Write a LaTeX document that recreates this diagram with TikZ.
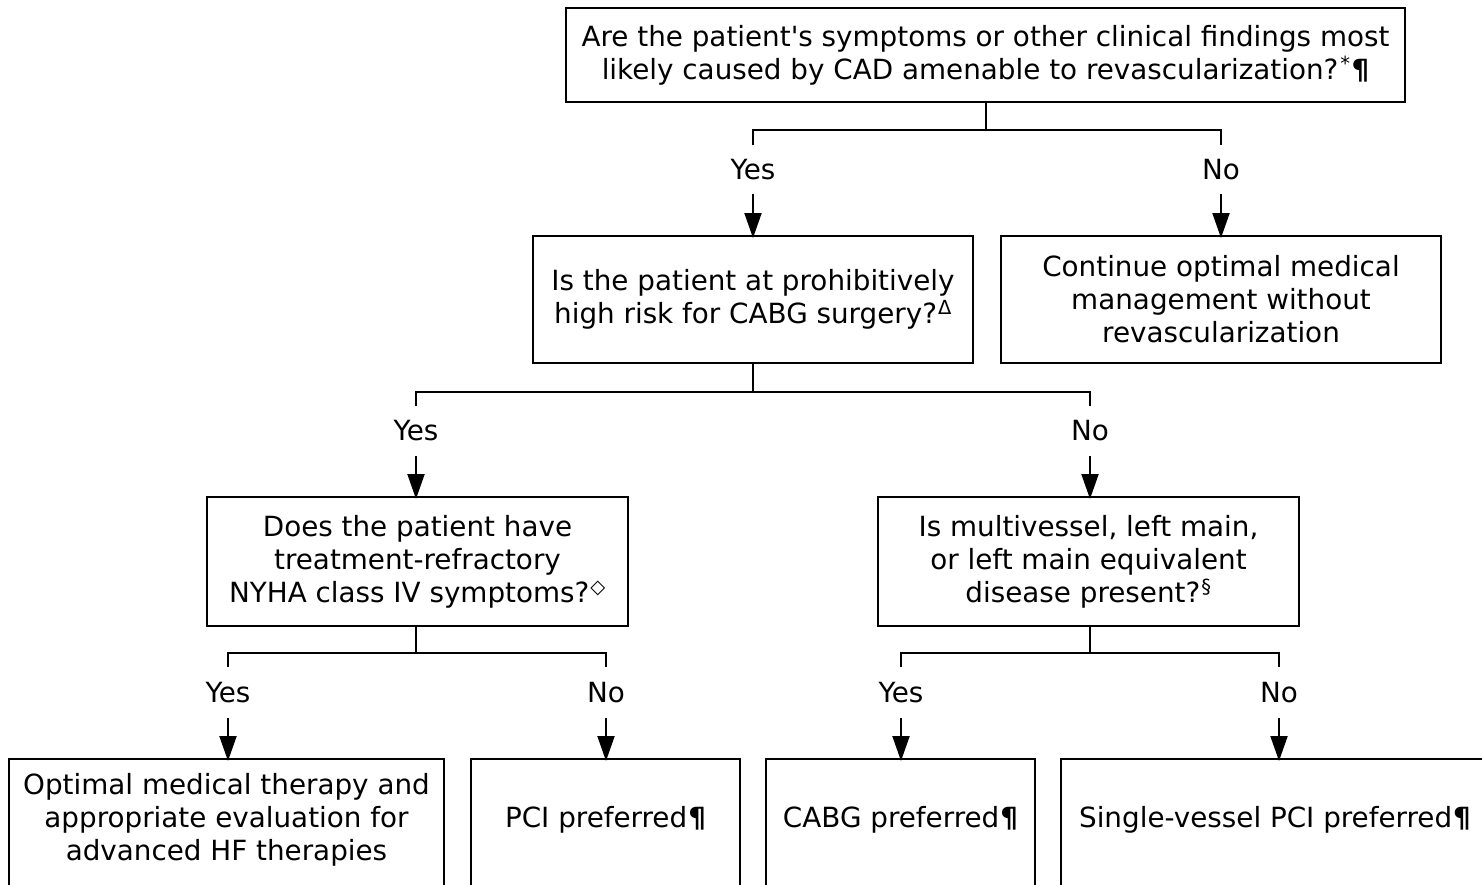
\documentclass[tikz,border=0pt]{standalone}
\usepackage{fontspec}
\setmainfont{DejaVu Sans}
\usetikzlibrary{arrows.meta}
\newcommand{\pil}{\kern1pt{\bfseries ¶}}
\begin{document}
\begin{tikzpicture}[x=1pt,y=-1pt,
  every node/.style={font=\fontsize{27.8}{33}\selectfont, inner sep=0pt},
  box/.style={draw, line width=2pt, align=center},
  frame/.style={draw, line width=2pt},
  lbl/.style={},
  conn/.style={line width=2pt},
  arr/.style={line width=2pt, -{Triangle[length=25pt,width=17pt]}}]
\clip (0,0) rectangle (1482,884);
\fill[white] (0,0) rectangle (1482,884);
% boxes
\node[box, minimum width=839pt, minimum height=94pt] (q1) at (985.5,55)
  {Are the patient\textquotesingle s symptoms or other clinical findings most\\likely caused by CAD amenable to revascularization?\kern2pt\textsuperscript{*}\pil};
\node[box, minimum width=440pt, minimum height=127pt] (q2) at (753,299.5)
  {Is the patient at prohibitively\\high risk for CABG surgery?\kern1pt\textsuperscript{Δ}};
\node[box, minimum width=440pt, minimum height=127pt] (r1) at (1221,299.5)
  {Continue optimal medical\\management without\\revascularization};
\node[box, minimum width=421pt, minimum height=129pt] (q3) at (417.5,561.5)
  {Does the patient have\\treatment-refractory\\NYHA class IV symptoms?\kern1pt\textsuperscript{◇}};
\node[box, minimum width=421pt, minimum height=129pt] (q4) at (1088.5,561.5)
  {Is multivessel, left main,\\or left main equivalent\\disease present?\kern1pt\textsuperscript{§}};
% bottom frames (cut off by page)
\node[frame, minimum width=435pt, minimum height=160pt, anchor=north] (b1) at (226.5,758) {};
\node[frame, minimum width=269pt, minimum height=160pt, anchor=north] (b2) at (605.5,758) {};
\node[frame, minimum width=269pt, minimum height=160pt, anchor=north] (b3) at (900.5,758) {};
\node[frame, minimum width=436pt, minimum height=160pt, anchor=north] (b4) at (1279,758) {};
\node[align=center] (t1) at (226.5,820) {Optimal medical therapy and\\appropriate evaluation for\\advanced HF therapies};
\node (t2) at (605.5,820) {PCI preferred\pil};
\node (t3) at (900.5,820) {CABG preferred\pil};
\node (t4) at (1275,820) {Single-vessel PCI preferred\pil};
% level 1 connectors
\draw[conn] (q1.south) -- (q1.south |- 0,130);
\draw[conn] (q2.north |- 0,145) -- (q2.north |- 0,130) -- (r1.north |- 0,130) -- (r1.north |- 0,145);
\node[lbl] (y1) at (q2.north |- 0,170) {Yes};
\node[lbl] (n1) at (r1.north |- 0,170) {No};
\draw[arr] (q2.north |- 0,194) -- ([yshift=-3pt]q2.north);
\draw[arr] (r1.north |- 0,194) -- ([yshift=-3pt]r1.north);
% level 2
\draw[conn] (q2.south) -- (q2.south |- 0,392);
\draw[conn] (416,406) -- (416,392) -- (1090,392) -- (1090,406);
\node[lbl] (y2) at (416,431) {Yes};
\node[lbl] (n2) at (1090,431) {No};
\draw[arr] (416,456) -- ([yshift=-3pt]q3.north -| 416,0);
\draw[arr] (1090,456) -- ([yshift=-3pt]q4.north -| 1090,0);
% level 3 left
\draw[conn] (q3.south -| 416,0) -- (416,653);
\draw[conn] (228,667) -- (228,653) -- (606,653) -- (606,667);
\node[lbl] (y3) at (228,693) {Yes};
\node[lbl] (n3) at (606,693) {No};
\draw[arr] (228,718) -- ([yshift=-3pt]b1.north -| 228,0);
\draw[arr] (606,718) -- ([yshift=-3pt]b2.north -| 606,0);
% level 3 right
\draw[conn] (q4.south -| 1090,0) -- (1090,653);
\draw[conn] (901,667) -- (901,653) -- (1279,653) -- (1279,667);
\node[lbl] (y4) at (901,693) {Yes};
\node[lbl] (n4) at (1279,693) {No};
\draw[arr] (901,718) -- ([yshift=-3pt]b3.north -| 901,0);
\draw[arr] (1279,718) -- ([yshift=-3pt]b4.north -| 1279,0);
\end{tikzpicture}
\end{document}
